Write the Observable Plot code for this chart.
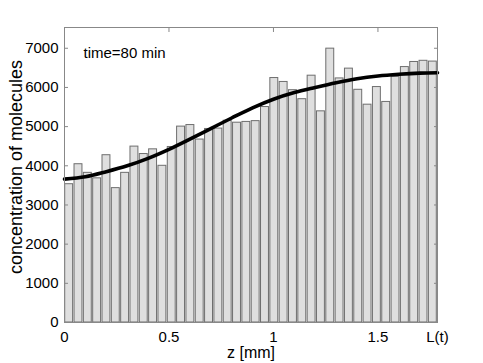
<!DOCTYPE html>
<html>
<head>
<meta charset="utf-8">
<script src="https://cdn.jsdelivr.net/npm/d3@7"></script>
<script src="https://cdn.jsdelivr.net/npm/@observablehq/plot@0.6"></script>
<style>
  html, body { margin: 0; padding: 0; background: white; }
  #chart { width: 483px; height: 363px; }
</style>
</head>
<body>
<div id="chart"></div>
<script>
// Domain length L(t) in mm
const L = 1.785;
// Histogram bar heights (40 equal bins from 0 to L)
const binCounts = [
  3530, 4040, 3820, 3680, 4270, 3430, 3820, 4490, 4300, 4420,
  4000, 4480, 5000, 5040, 4670, 4940, 4950, 5150, 5100, 5120,
  5140, 5500, 6240, 6140, 5930, 5700, 6300, 5390, 6990, 6230,
  6480, 5940, 5560, 6010, 5630, 6270, 6520, 6650, 6680, 6660
];
// Smooth model curve
const curveZ = [0, 0.1, 0.2, 0.3, 0.4, 0.5, 0.6, 0.7, 0.8, 0.9, 1.0, 1.1, 1.2, 1.3, 1.4, 1.5, 1.6, 1.7, 1.785];
const curveC = [3660, 3720, 3850, 4000, 4190, 4420, 4680, 4950, 5220, 5480, 5700, 5870, 6000, 6120, 6220, 6290, 6335, 6365, 6375];
// Axis ticks
const xTicks = [0, 0.5, 1, 1.5, L];
const xTickLabels = ["0", "0.5", "1", "1.5", "L(t)"];
const yTicks = [0, 1000, 2000, 3000, 4000, 5000, 6000, 7000];
const yMax = 7530;
const annotation = "time=80 min";
const xLabel = "z [mm]";
const yLabel = "concentration of molecules";

const n = binCounts.length;
const bins = binCounts.map((c, i) => ({x1: i * L / n, x2: (i + 1) * L / n, c}));
const curve = curveZ.map((z, i) => ({z, c: curveC[i]}));

const font = "'Liberation Sans', Arial, Helvetica, sans-serif";
const frameColor = "#888";

const chart = Plot.plot({
  width: 483,
  height: 363,
  marginLeft: 64,
  marginRight: 46,
  marginTop: 27,
  marginBottom: 41,
  style: {fontFamily: font, fontSize: "15px", color: "black", background: "white"},
  x: {domain: [0, L], axis: null},
  y: {domain: [0, yMax], axis: null},
  marks: [
    Plot.rectY(bins, {x1: "x1", x2: "x2", y: "c", fill: "#dfdfdf", stroke: "#6e6e6e", strokeWidth: 1, insetLeft: 0.7, insetRight: 0.7}),
    Plot.line(curve, {x: "z", y: "c", stroke: "black", strokeWidth: 3.6, curve: "monotone-x"}),
    Plot.frame({stroke: frameColor, strokeWidth: 1}),
    // inward tick marks
    Plot.axisX({anchor: "top", ticks: xTicks.slice(1, 4), tickSize: -4, tickFormat: () => "", stroke: frameColor, label: null}),
    Plot.axisY({anchor: "left", ticks: yTicks.slice(1), tickSize: -4, tickFormat: () => "", stroke: frameColor, label: null}),
    Plot.axisY({anchor: "right", ticks: yTicks.slice(1), tickSize: -4, tickFormat: () => "", stroke: frameColor, label: null}),
    // tick labels
    Plot.axisX({anchor: "bottom", ticks: xTicks, tickSize: 0, tickPadding: 9, tickFormat: (d, i) => xTickLabels[i], fontSize: 15, label: null}),
    Plot.axisY({anchor: "left", ticks: yTicks, tickSize: 0, tickPadding: 6, tickFormat: d => String(d), fontSize: 15, label: null}),
    // annotation and axis titles
    Plot.text([annotation], {frameAnchor: "top-left", dx: 19, dy: 20, lineAnchor: "top", textAnchor: "start", fontSize: 15}),
    Plot.text([xLabel], {frameAnchor: "bottom", dy: 35, lineAnchor: "bottom", fontSize: 16}),
    Plot.text([yLabel], {frameAnchor: "left", dx: -48, dy: -8, rotate: -90, textAnchor: "middle", lineAnchor: "middle", fontSize: 18})
  ]
});
document.getElementById("chart").appendChild(chart);
</script>
</body>
</html>
